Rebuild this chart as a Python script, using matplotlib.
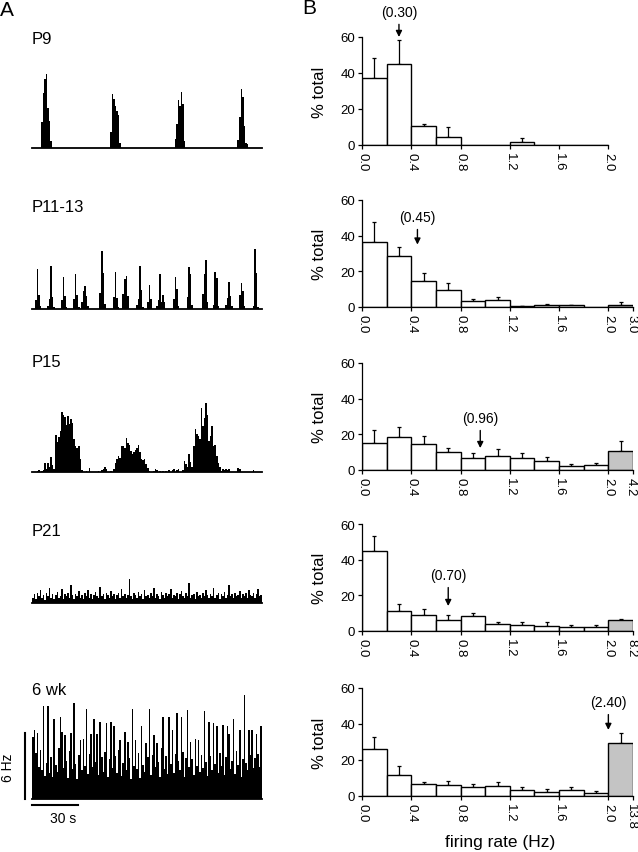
import numpy as np
import matplotlib
matplotlib.use('Agg')
import matplotlib.pyplot as plt
from matplotlib.transforms import ScaledTranslation

plt.rcParams['font.family'] = ['Liberation Sans', 'DejaVu Sans']

# ---- panel A: firing rate traces, 1 s bins over 150 s (Hz) ----
rate_p9 = [
    0, 0, 0, 0, 0, 0, 2.4, 5.0, 6.3, 6.7,
    3.6, 2.5, 0.6, 0, 0, 0, 0, 0, 0, 0,
    0, 0, 0, 0, 0, 0, 0, 0, 0, 0,
    0, 0, 0, 0, 0, 0, 0, 0, 0, 0,
    0, 0, 0, 0, 0, 0, 0, 0, 0, 0,
    0, 1.5, 4.9, 4.5, 3.8, 3.4, 3.0, 0.5, 0, 0,
    0, 0, 0, 0, 0, 0, 0, 0, 0, 0,
    0, 0, 0, 0, 0, 0, 0, 0, 0, 0,
    0, 0, 0, 0, 0, 0, 0, 0, 0, 0,
    0, 0, 0, 0.8, 2.2, 4.4, 3.8, 5.1, 4.0, 0.6,
    0, 0, 0, 0, 0, 0, 0, 0, 0, 0,
    0, 0, 0, 0, 0, 0, 0, 0, 0, 0,
    0, 0, 0, 0, 0, 0, 0, 0, 0, 0,
    0, 0, 0, 0, 0.7, 2.8, 5.4, 4.6, 2.0, 0.5,
    0.4, 0, 0, 0, 0, 0, 0, 0, 0, 0,
]
rate_p11 = [
    0, 0, 0.8, 3.6, 1.3, 0.3, 0, 0, 0, 0,
    0.3, 0.9, 3.9, 1.1, 0.2, 0, 0, 0, 0, 0.8,
    2.9, 1.2, 0.2, 0, 0, 0, 0, 0.9, 3.2, 1.3,
    0.2, 0, 0.6, 1.6, 2.1, 1.2, 0.3, 0, 0, 0,
    0, 0, 0, 0, 1.5, 5.3, 3.3, 0.5, 0, 0,
    0, 0, 0, 1.1, 3.4, 1.0, 0.2, 0, 0, 1.4,
    2.7, 3.0, 1.2, 0, 0, 0, 0, 0, 0.4, 0.9,
    3.9, 1.7, 0.2, 0, 0, 0.6, 2.2, 0.9, 0, 0,
    0, 0.3, 0.8, 3.2, 0.6, 1.3, 0.6, 0, 0, 0,
    0, 0, 0.9, 2.9, 1.8, 0.3, 0, 0, 0, 0,
    0, 1.1, 3.8, 3.2, 0.4, 0, 0, 0, 0, 0,
    0, 1.4, 3.2, 4.5, 0.6, 0, 0, 0, 0.4, 3.4,
    2.8, 0.3, 0, 0, 0, 0, 0.4, 1.0, 2.5, 1.2,
    0.3, 0, 0, 0, 0, 1.3, 2.4, 1.6, 0.3, 0,
    0, 0, 0, 0, 0.3, 5.5, 3.3, 0.2, 0, 0,
]
rate_p15 = [
    0, 0, 0, 0.1, 0.2, 0, 0.1, 0.2, 0.8, 0.3,
    0.85, 0.5, 1.4, 0.6, 0.3, 3.4, 2.7, 3.2, 3.7, 5.5,
    5.2, 5.0, 4.3, 5.1, 4.4, 4.8, 4.5, 3.0, 2.4, 2.2,
    2.4, 1.2, 0.2, 0, 0, 0.1, 0, 0.4, 0, 0,
    0, 0, 0, 0.1, 0, 0.2, 0.3, 0.5, 0.3, 0,
    0, 0.1, 0, 0.3, 0.8, 1.15, 1.5, 1.3, 2.4, 2.4,
    2.2, 3.1, 2.6, 2.5, 1.9, 1.6, 1.8, 2.0, 2.2, 2.5,
    1.8, 1.2, 1.1, 1.15, 0.7, 0.4, 0.1, 0, 0, 0.1,
    0.3, 0.2, 0, 0.1, 0, 0.1, 0, 0.1, 0, 0.2,
    0, 0.2, 0.3, 0, 0.2, 0.3, 0, 0, 0.2, 1.0,
    0.7, 0.5, 1.6, 0.9, 0.5, 2.4, 3.9, 3.5, 3.3, 3.0,
    5.8, 4.2, 4.9, 6.3, 5.2, 2.8, 3.3, 4.2, 2.4, 2.5,
    1.5, 0.85, 0.5, 0.1, 0.3, 0.2, 0.3, 0.2, 0.3, 0,
    0, 0, 0, 0, 0.4, 0.3, 0, 0, 0, 0,
    0, 0, 0, 0, 0.2, 0, 0, 0, 0, 0,
]
rate_p21 = [
    0.5, 0.8, 0.4, 0.9, 0.6, 1.2, 0.5, 0.7, 0.3, 0.9,
    0.6, 1.4, 0.5, 0.8, 0.4, 0.7, 1.0, 0.5, 0.6, 1.3,
    0.4, 0.8, 0.6, 0.9, 0.5, 1.6, 0.7, 0.4, 0.8, 0.6,
    1.1, 0.5, 0.7, 0.4, 0.9, 0.6, 1.2, 0.5, 0.8, 0.4,
    0.7, 1.0, 0.6, 0.5, 1.5, 0.6, 0.8, 0.4, 0.9, 0.7,
    0.5, 1.1, 0.6, 0.8, 0.4, 0.7, 0.9, 0.5, 1.3, 0.6,
    0.8, 0.5, 0.7, 2.2, 0.6, 0.4, 0.9, 0.7, 0.5, 1.0,
    0.6, 0.8, 0.4, 1.2, 0.6, 0.7, 0.5, 0.9, 0.6, 1.4,
    0.5, 0.8, 0.6, 0.4, 1.0, 0.7, 0.5, 0.9, 0.6, 0.8,
    1.3, 0.5, 0.7, 0.6, 0.9, 0.4, 0.8, 1.1, 0.6, 0.5,
    0.9, 0.6, 1.8, 0.5, 0.7, 0.8, 0.4, 1.0, 0.6, 0.7,
    0.5, 0.9, 0.6, 1.2, 0.7, 0.5, 0.8, 0.6, 1.4, 0.5,
    0.7, 0.9, 0.4, 0.8, 0.6, 1.0, 0.5, 0.7, 1.6, 0.6,
    0.8, 0.5, 0.9, 0.6, 0.7, 1.1, 0.5, 0.8, 0.6, 0.9,
    0.5, 1.2, 0.7, 0.6, 0.9, 0.5, 0.8, 1.3, 0.6, 0.7,
]
rate_6wk = [
    5.6, 6.3, 4.2, 6.0, 2.9, 4.5, 2.6, 8.5, 2.1, 3.3,
    8.5, 2.4, 3.8, 2.0, 7.3, 3.1, 2.5, 4.6, 7.5, 6.1,
    2.8, 5.8, 3.5, 1.9, 4.4, 6.0, 2.7, 8.7, 3.2, 1.8,
    4.0, 5.4, 2.6, 5.5, 3.0, 8.2, 2.3, 4.1, 5.9, 2.9,
    7.3, 3.4, 5.9, 2.2, 7.0, 3.8, 2.5, 4.3, 6.9, 2.0,
    3.6, 7.0, 2.8, 6.6, 3.9, 2.4, 4.5, 5.4, 2.1, 3.3,
    6.1, 2.6, 5.2, 3.7, 1.8, 8.2, 3.0, 5.4, 2.7, 4.2,
    1.9, 6.6, 3.1, 2.5, 5.1, 3.8, 8.2, 2.2, 4.0, 5.8,
    2.9, 5.1, 3.4, 2.0, 4.6, 7.5, 2.7, 3.9, 2.3, 7.5,
    3.2, 6.3, 2.4, 4.1, 7.8, 3.5, 2.6, 7.5, 4.3, 2.0,
    3.7, 8.1, 2.9, 5.2, 3.6, 2.2, 5.5, 3.0, 5.4, 2.5,
    4.0, 2.8, 8.0, 3.4, 2.1, 7.0, 3.9, 2.6, 6.9, 3.2,
    6.6, 2.4, 4.2, 3.0, 6.7, 2.2, 3.8, 6.6, 5.9, 2.7,
    3.5, 7.3, 2.3, 4.4, 3.1, 6.3, 2.0, 3.6, 9.5, 3.3,
    2.6, 6.3, 4.0, 6.3, 2.8, 3.7, 5.9, 4.1, 2.9, 6.6,
]
trace_names = ['P9', 'P11-13', 'P15', 'P21', '6 wk']
traces = [rate_p9, rate_p11, rate_p15, rate_p21, rate_6wk]

# ---- panel B: firing rate distributions (% total), 0.2 Hz bins ----
bin_edges = [0.0, 0.2, 0.4, 0.6, 0.8, 1.0, 1.2, 1.4, 1.6, 1.8, 2.0]
pct_p9 = [37.4, 44.9, 10.6, 4.7, 0, 0, 1.9, 0, 0, 0]
err_p9 = [11.2, 13.2, 0.8, 5.2, 0, 0, 1.8, 0, 0, 0]
pct_p11 = [36.7, 28.5, 14.7, 9.3, 3.2, 3.9, 0.6, 0.9, 0.9, 0.0]
err_p11 = [11.2, 5.2, 4.1, 4.1, 1.5, 1.9, 0.2, 0.6, 0.2, 0]
pct_p15 = [15.0, 18.3, 14.8, 10.1, 6.9, 7.9, 6.5, 5.2, 2.2, 3.0]
err_p15 = [7.6, 5.6, 4.3, 2.0, 2.8, 3.9, 3.2, 2.3, 1.2, 1.1]
pct_p21 = [45.1, 11.2, 8.8, 6.1, 8.6, 3.7, 3.5, 2.8, 2.0, 2.2]
err_p21 = [8.3, 3.7, 3.5, 2.7, 1.5, 1.3, 1.5, 2.2, 1.4, 1.3]
pct_6wk = [26.2, 11.6, 6.6, 6.3, 4.8, 5.7, 3.5, 2.4, 3.1, 1.8]
err_6wk = [6.5, 5.0, 1.0, 1.8, 1.8, 2.2, 1.3, 1.3, 2.1, 1.2]
# last bin: 2.0 Hz up to the maximum rate (None = no such bin)
pct_high = [None, 1.3, 10.8, 6.0, 29.2]
err_high = [None, 1.3, 5.3, 0.5, 5.9]
max_rate = [None, '3.0', '4.2', '8.2', '13.8']
mean_rate = ['(0.30)', '(0.45)', '(0.96)', '(0.70)', '(2.40)']
arrow_x = [0.30, 0.45, 0.96, 0.70, 2.0]
arrow_tip = [60, 35, 12.3, 14, 36.7]
arrow_txt = [74, 50.5, 29.2, 31.4, 52.2]

pcts = [pct_p9, pct_p11, pct_p15, pct_p21, pct_6wk]
errs = [err_p9, err_p11, err_p15, err_p21, err_6wk]

W, H = 638, 853
fig = plt.figure(figsize=(W / 100, H / 100), dpi=100)

# layout in pixels
trace_base = [149, 310, 473, 604, 800]
name_y = [39, 208, 363, 532, 691]
hist_base = [146, 308, 471, 632, 797]
hist_top = [38, 201, 364, 525, 689]
px_per_hz = 11.0

fig.text(0 / W, 1 - 10 / H, 'A', fontsize=15, va='center', ha='left')
fig.text(302 / W, 1 - 9 / H, 'B', fontsize=15, va='center', ha='left')

edges_t = np.arange(151)
for k in range(5):
    h = 110
    ax = fig.add_axes([32 / W, (H - trace_base[k]) / H, 230 / W, h / H])
    ax.stairs(traces[k], edges_t, fill=True, color='black', lw=0)
    ax.set_xlim(0, 150)
    ax.set_ylim(0, h / px_per_hz)
    for s in ['top', 'right', 'left']:
        ax.spines[s].set_visible(False)
    ax.spines['bottom'].set_linewidth(1.3)
    ax.set_xticks([])
    ax.set_yticks([])
    ax.patch.set_alpha(0)
    fig.text(32 / W, 1 - name_y[k] / H, trace_names[k], fontsize=12,
             va='center', ha='left')
    if k == 4:
        # scale bars
        ax.plot([-4.6, -4.6], [0, 6], color='black', lw=1.5, clip_on=False)
        ax.plot([0, 30], [-0.55, -0.55], color='black', lw=1.5, clip_on=False)
        ax.text(20.5, -1.7, '30 s', fontsize=10, ha='center', va='center')
        ax.text(-15.7, 2.9, '6 Hz', fontsize=10, ha='center', va='center',
                rotation=90)

shift = ScaledTranslation(-2 / 100, 0, fig.dpi_scale_trans)
for k in range(5):
    y0 = (H - hist_base[k]) / H
    hh = (hist_base[k] - hist_top[k]) / H
    ax = fig.add_axes([362 / W, y0, 271 / W, hh])
    lefts = bin_edges[:-1]
    ax.bar(lefts, pcts[k], width=0.2, align='edge', color='white',
           edgecolor='black', lw=1.0, zorder=2)
    centers = np.array(lefts) + 0.1
    e = np.array(errs[k])
    m = e > 0
    ax.errorbar(centers[m], np.array(pcts[k])[m],
                yerr=[np.zeros(m.sum()), e[m]], fmt='none', ecolor='black',
                elinewidth=0.9, capsize=1.6, capthick=0.9, zorder=1)
    ticks = [0.0, 0.4, 0.8, 1.2, 1.6, 2.0]
    labels = ['0.0', '0.4', '0.8', '1.2', '1.6', '2.0']
    if pct_high[k] is not None:
        ax.bar(2.0, pct_high[k], width=0.2, align='edge', color='#c4c4c4',
               edgecolor='black', lw=1.0, zorder=2)
        ax.errorbar([2.1], [pct_high[k]], yerr=[[0], [err_high[k]]],
                    fmt='none', ecolor='black', elinewidth=0.9,
                    capsize=1.6, capthick=0.9, zorder=1)
        ticks.append(2.2)
        labels.append(max_rate[k])
    else:
        ax.spines['bottom'].set_bounds(0, 2.0)
    ax.set_xlim(0, 2.2)
    ax.set_ylim(0, 60)
    ax.set_yticks([0, 20, 40, 60])
    ax.set_xticks(ticks)
    ax.set_xticklabels(labels, rotation=-90)
    ax.tick_params(labelsize=9.5, length=3, width=0.9, pad=2)
    if pct_high[k] is not None:
        lab = ax.get_xticklabels()[-1]
        lab.set_transform(lab.get_transform() + shift)
    for s in ['top', 'right']:
        ax.spines[s].set_visible(False)
    ax.spines['left'].set_linewidth(0.9)
    ax.spines['bottom'].set_linewidth(0.9)
    ax.annotate(mean_rate[k], xy=(arrow_x[k], arrow_tip[k]),
                xytext=(arrow_x[k], arrow_txt[k]), ha='center', va='center',
                fontsize=10, annotation_clip=False,
                arrowprops=dict(arrowstyle='-|>', color='black', lw=1.0,
                                mutation_scale=9, shrinkA=2, shrinkB=0))
    fig.text(320 / W, (y0 + hh / 2), '% total', rotation=90, fontsize=12,
             ha='center', va='center')

fig.text(500 / W, 1 - 843 / H, 'firing rate (Hz)', fontsize=12.5,
         ha='center', va='center')

fig.savefig('out.png', dpi=100)
